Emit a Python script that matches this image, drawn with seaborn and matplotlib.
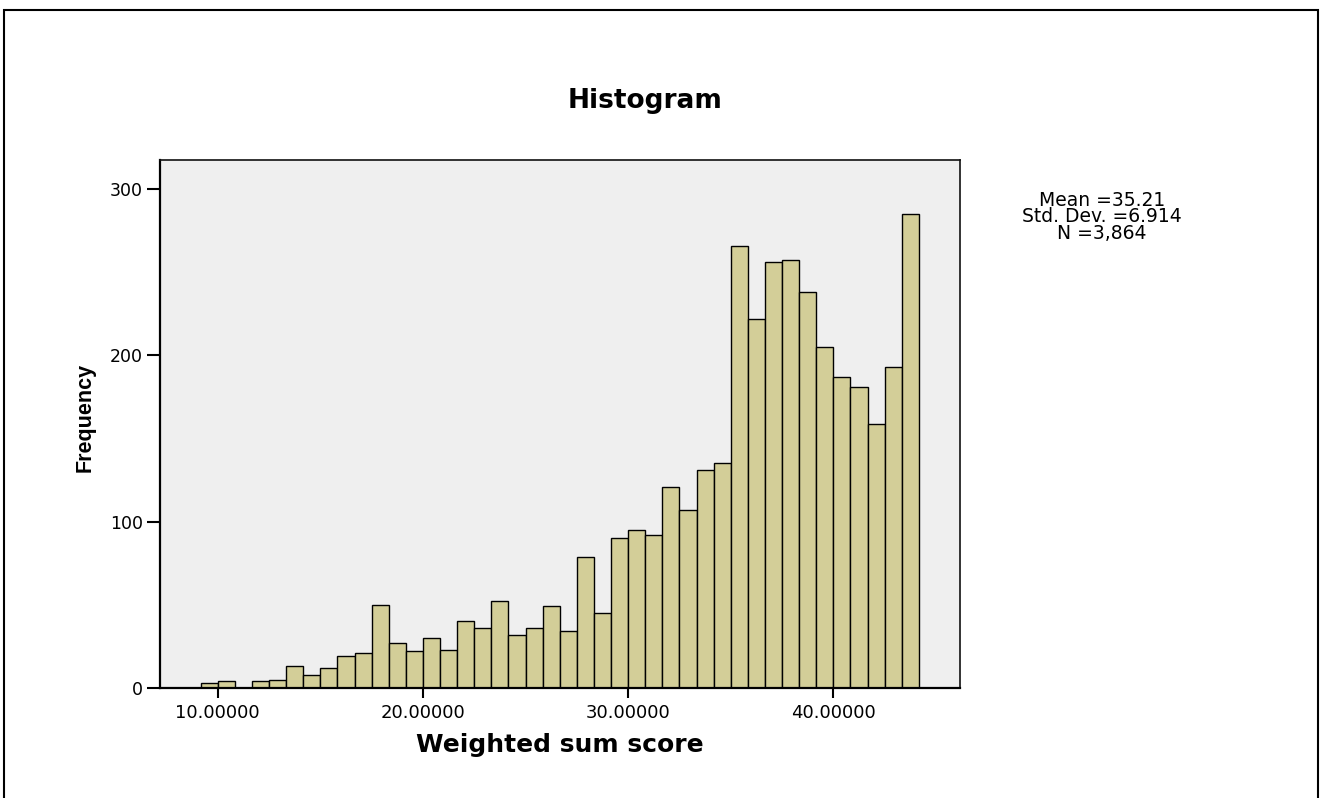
import numpy as np
import pandas as pd
import matplotlib
matplotlib.use("Agg")
import matplotlib.pyplot as plt
import seaborn as sns
from matplotlib.patches import Rectangle

# ---- data ----
bin_start = 9.1666667
bin_width = 10.0 / 12.0
counts = [3, 4, 0, 4, 5, 13, 8, 12, 19, 21,
          50, 27, 22, 30, 23, 40, 36, 52, 32, 36,
          49, 34, 79, 45, 90, 95, 92, 121, 107, 131,
          135, 266, 222, 256, 257, 238, 205, 187, 181, 159,
          193, 285]
x_ticks = [10, 20, 30, 40]
x_tick_labels = ["10.00000", "20.00000", "30.00000", "40.00000"]
y_ticks = [0, 100, 200, 300]
y_tick_labels = ["0", "100", "200", "300"]
title = "Histogram"
x_label = "Weighted sum score"
y_label = "Frequency"
stats_lines = ["Mean =35.21", "Std. Dev. =6.914", "N =3,864"]

edges = [bin_start + i * bin_width for i in range(len(counts) + 1)]
centers = [e + bin_width / 2 for e in edges[:-1]]
df = pd.DataFrame({"score": centers, "freq": counts})

sns.set_style("ticks")
plt.rcParams["font.family"] = ["DejaVu Sans"]
plt.rcParams["text.color"] = "black"
plt.rcParams["axes.labelcolor"] = "black"
plt.rcParams["xtick.color"] = "black"
plt.rcParams["ytick.color"] = "black"

W, H = 1322, 798
fig = plt.figure(figsize=(W / 100, H / 100), dpi=100)
fig.patch.set_facecolor("white")

ax = fig.add_axes([160 / W, 1 - 688 / H, 800 / W, 528 / H])
ax.set_facecolor("#EFEFEF")

sns.histplot(data=df, x="score", weights="freq", bins=edges,
             color="#D3CE98", edgecolor="black", linewidth=1.0,
             alpha=1.0, ax=ax)

ax.set_xlim(7.188, 46.17)
ax.set_ylim(0, 317.4)
ax.set_xticks(x_ticks)
ax.set_xticklabels(x_tick_labels)
ax.set_yticks(y_ticks)
ax.set_yticklabels(y_tick_labels)
ax.tick_params(axis="y", direction="out", length=9.5, width=1.5, pad=3,
               labelsize=12.5, colors="black")
ax.tick_params(axis="x", direction="out", length=7.5, width=1.5, pad=4,
               labelsize=13, colors="black")
for side in ["left", "bottom"]:
    ax.spines[side].set_linewidth(1.6)
    ax.spines[side].set_color("black")
for side in ["top", "right"]:
    ax.spines[side].set_visible(True)
    ax.spines[side].set_linewidth(1.2)
    ax.spines[side].set_color("#111111")
ax.set_xlabel("")
ax.set_ylabel("")

fig.text(645.5 / W, 1 - 101 / H, title, ha="center", va="center",
         fontsize=19, fontweight="bold", color="black",
         family=["DejaVu Sans"])
fig.text(559.5 / W, 1 - 745 / H, x_label, ha="center", va="center",
         fontsize=18, fontweight="bold", color="black",
         family=["DejaVu Sans"])
fig.text(85.5 / W, 1 - 417.5 / H, y_label, ha="center", va="center",
         rotation=90, fontsize=15.5, fontweight="bold", color="black",
         family=["Liberation Sans", "DejaVu Sans"])
fig.text(1102 / W, 1 - 217 / H, "\n".join(stats_lines), ha="center",
         va="center", fontsize=13.5, linespacing=0.82, color="black",
         family=["DejaVu Sans"])

frame = Rectangle((4 / W, -0.05), 1314 / W, 1 - 10 / H + 0.05,
                  transform=fig.transFigure, fill=False,
                  edgecolor="black", linewidth=1.5, clip_on=False)
fig.patches.append(frame)

fig.savefig("out.png", dpi=100, facecolor="white")
